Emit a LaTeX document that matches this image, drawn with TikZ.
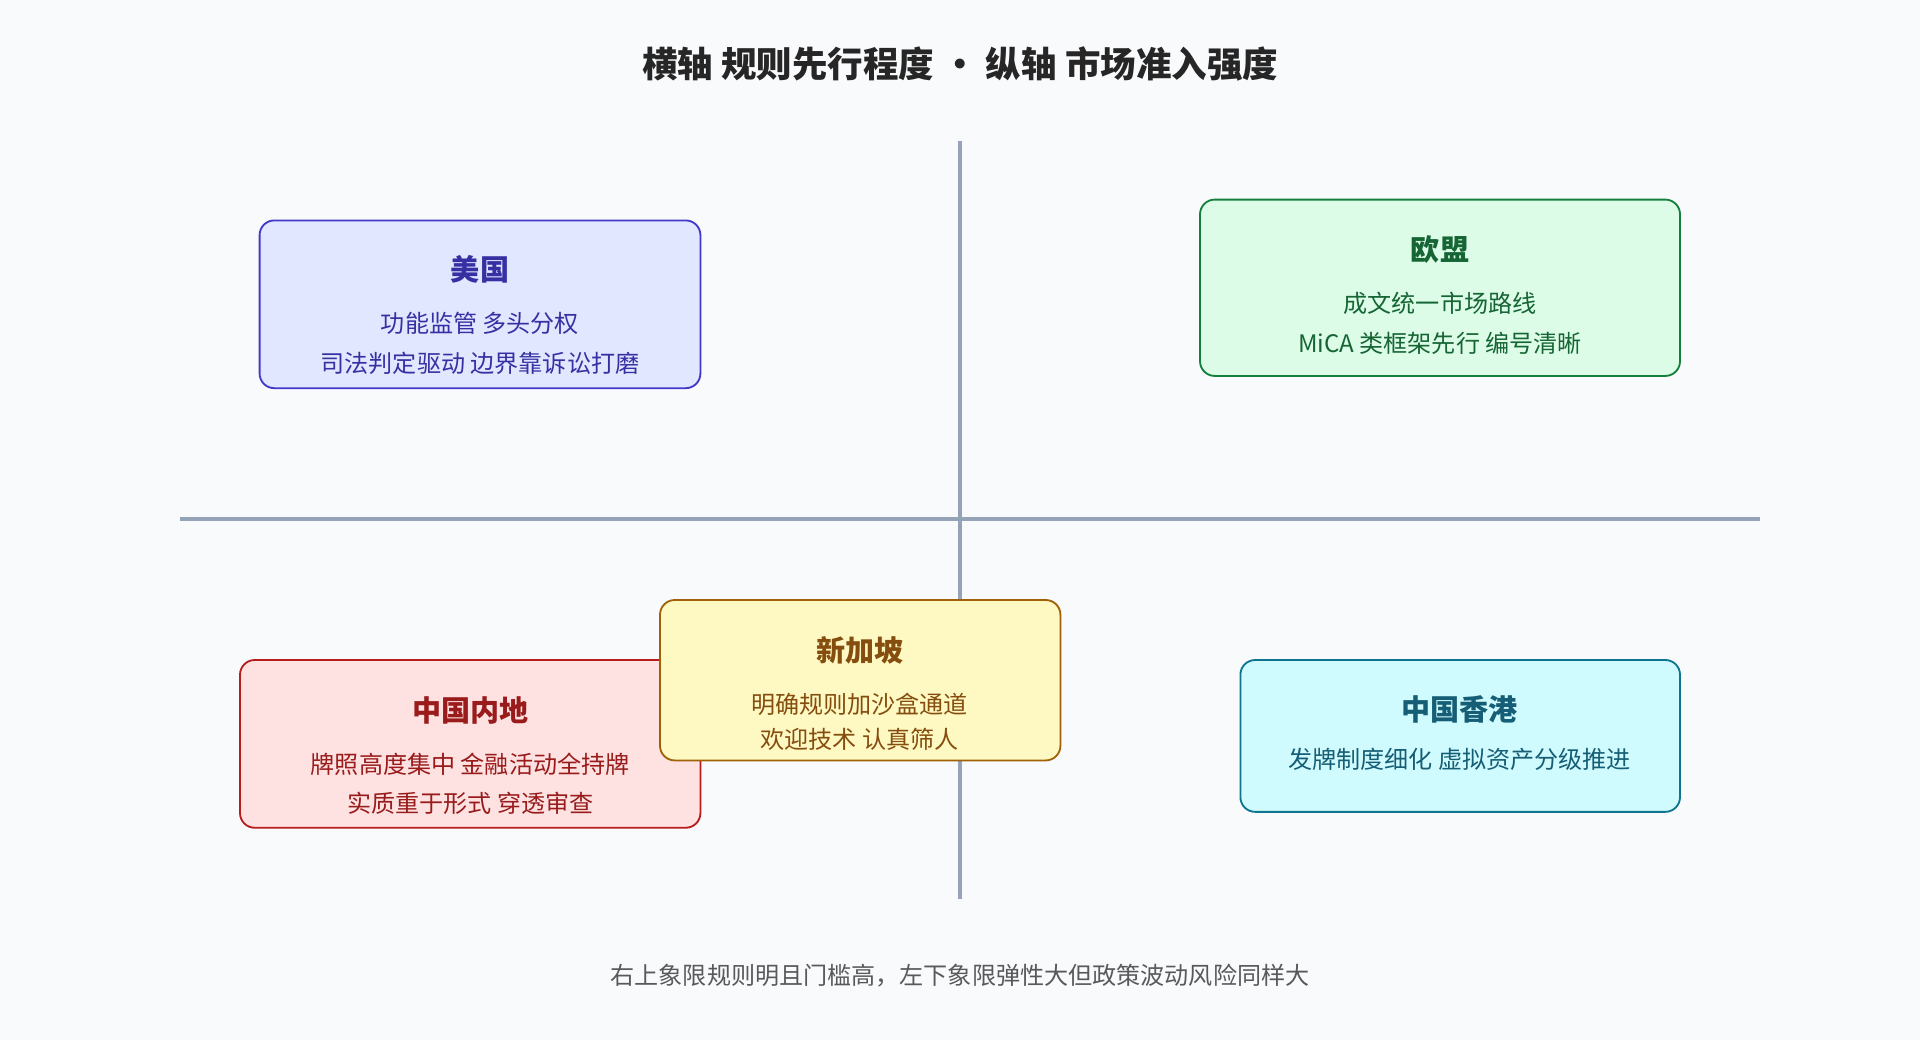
\documentclass[tikz,border=0pt]{standalone}
\usepackage{fontspec}
\setmainfont{Noto Sans CJK SC}
\usetikzlibrary{positioning}
\definecolor{bg}{HTML}{F8FAFC}
\definecolor{axis}{HTML}{94A3B8}
\definecolor{usfill}{HTML}{E0E7FF}\definecolor{usline}{HTML}{4338CA}\definecolor{ustext}{HTML}{3730A3}
\definecolor{eufill}{HTML}{DCFCE7}\definecolor{euline}{HTML}{15803D}\definecolor{eutext}{HTML}{166534}
\definecolor{cnfill}{HTML}{FEE2E2}\definecolor{cnline}{HTML}{B91C1C}\definecolor{cntext}{HTML}{991B1B}
\definecolor{sgfill}{HTML}{FEF9C3}\definecolor{sgline}{HTML}{A16207}\definecolor{sgtext}{HTML}{854D0E}
\definecolor{hkfill}{HTML}{CFFAFE}\definecolor{hkline}{HTML}{0E7490}\definecolor{hktext}{HTML}{155E75}
\tikzset{
  box/.style={draw, rounded corners=0.24cm, line width=0.85pt, inner sep=0pt},
  head/.style={font=\fontsize{13.5}{16}\selectfont\bfseries},
  body/.style={font=\fontsize{11.2}{14}\selectfont},
}
\begin{document}
\begin{tikzpicture}[x=0.02cm,y=-0.02cm]
\fill[bg] (0,0) rectangle (1568,849);
\useasboundingbox (0,0) rectangle (1568,849);

\node[font=\fontsize{16.5}{20}\selectfont\bfseries, text=black!85] (title) at (784,52) {横轴 规则先行程度 • 纵轴 市场准入强度};

% axes
\coordinate (top) at (784,115); \coordinate (bot) at (784,734);
\coordinate (left) at (147,424); \coordinate (right) at (1437,424);
\draw[axis, line width=1.7pt] (top) -- (bot);
\draw[axis, line width=1.7pt] (left) -- (right);

% USA
\node[box, fill=usfill, draw=usline, minimum width=360*0.02cm, minimum height=137*0.02cm] (us) at (392,248.5) {};
\node[head, text=ustext] (us1) at (392,220) {美国};
\node[body, text=ustext] (us2) at (392,264) {功能监管 多头分权};
\node[body, text=ustext] (us3) at (392,297) {司法判定驱动 边界靠诉讼打磨};

% EU
\node[box, fill=eufill, draw=euline, minimum width=392*0.02cm, minimum height=144*0.02cm] (eu) at (1176,235) {};
\node[head, text=eutext] (eu1) at (1176,204) {欧盟};
\node[body, text=eutext] (eu2) at (1176,248) {成文统一市场路线};
\node[body, text=eutext] (eu3) at (1176,280) {MiCA 类框架先行 编号清晰};

% mainland
\node[box, fill=cnfill, draw=cnline, minimum width=376*0.02cm, minimum height=137*0.02cm] (cn) at (384,607.5) {};
\node[head, text=cntext] (cn1) at (384,580) {中国内地};
\node[body, text=cntext] (cn2) at (384,624) {牌照高度集中 金融活动全持牌};
\node[body, text=cntext] (cn3) at (384,656) {实质重于形式 穿透审查};

% Singapore
\node[box, fill=sgfill, draw=sgline, minimum width=327*0.02cm, minimum height=131*0.02cm] (sg) at (702.5,555.5) {};
\node[head, text=sgtext] (sg1) at (702,531) {新加坡};
\node[body, text=sgtext] (sg2) at (702,575) {明确规则加沙盒通道};
\node[body, text=sgtext] (sg3) at (702,604) {欢迎技术 认真筛人};

% Hong Kong
\node[box, fill=hkfill, draw=hkline, minimum width=359*0.02cm, minimum height=124*0.02cm] (hk) at (1192.5,601) {};
\node[head, text=hktext] (hk1) at (1192,579) {中国香港};
\node[body, text=hktext] (hk2) at (1192,620) {发牌制度细化 虚拟资产分级推进};

\node[body, text=black!65] (note) at (784,797) {右上象限规则明且门槛高，左下象限弹性大但政策波动风险同样大};
\end{tikzpicture}
\end{document}
